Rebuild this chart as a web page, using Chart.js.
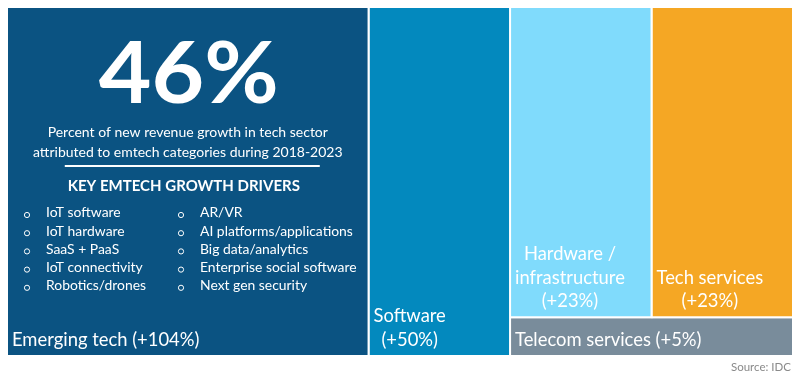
<!DOCTYPE html>
<html>
<head>
<meta charset="utf-8">
<script src="https://cdn.jsdelivr.net/npm/chart.js@4.4.1/dist/chart.umd.min.js"></script>
<style>
  html, body { margin: 0; padding: 0; background: #fff; }
  #wrap { width: 800px; height: 375px; position: relative; }
</style>
</head>
<body>
<div id="wrap"><canvas id="treemap"></canvas></div>
<script>
// Données
const categories = ['Emerging tech', 'Software', 'Hardware / infrastructure', 'Tech services', 'Telecom services'];
const growth = ['+104%', '+50%', '+23%', '+23%', '+5%'];
// part de la croissance du nouveau revenu (surface des tuiles, en %)
const shares = [46, 18, 16, 16, 4];
const tileLabels = [
    ['Emerging tech (+104%)'],
    ['Software', '(+50%)'],
    ['Hardware /', 'infrastructure', '(+23%)'],
    ['Tech services', '(+23%)'],
    ['Telecom services (+5%)']
];
const colors = ['#0b5382', '#0389be', '#80dbfc', '#f5a724', '#798c9b'];
const driversLeft = ['IoT software', 'IoT hardware', 'SaaS + PaaS', 'IoT connectivity', 'Robotics/drones'];
const driversRight = ['AR/VR', 'AI platforms/applications', 'Big data/analytics', 'Enterprise social software', 'Next gen security'];
const headline = '46%';
const subtitle = ['Percent of new revenue growth in tech sector', 'attributed to emtech categories during 2018-2023'];

const FONT = 'Lato, "Open Sans", sans-serif';

// Disposition du treemap à partir des parts (axes 0-100)
function layout(v) {
    const total = v.reduce((a, b) => a + b, 0);
    const rects = [];
    let x = 0;
    for (let i = 0; i < 2; i++) {
        const w = v[i] / total * 100;
        rects.push({ x0: x, x1: x + w, y0: 0, y1: 100 });
        x += w;
    }
    const group = v[2] + v[3] + v[4];
    const telH = v[4] / group * 100;
    const split = x + (100 - x) * v[2] / (v[2] + v[3]);
    rects.push({ x0: x, x1: split, y0: telH, y1: 100 });
    rects.push({ x0: split, x1: 100, y0: telH, y1: 100 });
    rects.push({ x0: x, x1: 100, y0: 0, y1: telH });
    return rects;
}

const rects = layout(shares);

const datasets = rects.map((r, i) => ({
    label: categories[i] + ' (' + growth[i] + ')',
    data: [
        { x: r.x0, y: r.y0 }, { x: r.x1, y: r.y0 },
        { x: r.x1, y: r.y1 }, { x: r.x0, y: r.y1 }, { x: r.x0, y: r.y0 }
    ],
    showLine: true,
    fill: 'shape',
    backgroundColor: colors[i],
    borderColor: '#ffffff',
    borderWidth: 2,
    pointRadius: 0,
    pointHoverRadius: 0,
    tension: 0
}));

// Textes dans les tuiles
const labelsPlugin = {
    id: 'tileLabels',
    afterDatasetsDraw(chart) {
        const ctx = chart.ctx;
        const xs = chart.scales.x, ys = chart.scales.y;
        ctx.save();
        ctx.fillStyle = '#ffffff';
        ctx.textBaseline = 'middle';
        ctx.font = '18.4px ' + FONT;
        rects.forEach((r, i) => {
            const left = xs.getPixelForValue(r.x0);
            const bottom = ys.getPixelForValue(r.y0);
            const lines = tileLabels[i];
            const maxW = Math.max(...lines.map(l => ctx.measureText(l).width));
            ctx.textAlign = 'center';
            lines.forEach((l, j) => {
                const y = bottom - 16 - (lines.length - 1 - j) * 23.5;
                ctx.fillText(l, left + 5 + maxW / 2, y);
            });
        });

        // bloc d'en-tête dans la tuile "Emerging tech"
        const r = rects[0];
        const l0 = xs.getPixelForValue(r.x0), l1 = xs.getPixelForValue(r.x1);
        const top = ys.getPixelForValue(r.y1);
        const cx = (l0 + l1) / 2;

        // gros chiffre : hauteur ~63px, largeur ~180px
        ctx.textAlign = 'center';
        ctx.textBaseline = 'alphabetic';
        ctx.font = 'bold 100px ' + FONT;
        const asc = ctx.measureText(headline).actualBoundingBoxAscent;
        const fs = 100 * 63 / asc;
        ctx.font = 'bold ' + fs + 'px ' + FONT;
        const hw = ctx.measureText(headline).width;
        ctx.save();
        ctx.translate(cx + 1, top + 33 + 63);
        ctx.scale(180 / hw, 1);
        ctx.fillText(headline, 0, 0);
        ctx.restore();

        ctx.textBaseline = 'middle';
        ctx.font = '14px ' + FONT;
        subtitle.forEach((s, j) => ctx.fillText(s, cx, top + 125 + j * 20));
        ctx.strokeStyle = '#ffffff';
        ctx.lineWidth = 2;
        ctx.beginPath();
        ctx.moveTo(cx - 123, top + 159);
        ctx.lineTo(cx + 132, top + 159);
        ctx.stroke();
        ctx.font = 'bold 15px ' + FONT;
        ctx.fillText('KEY EMTECH GROWTH DRIVERS', cx - 4, top + 179);

        ctx.font = '13.9px ' + FONT;
        ctx.textAlign = 'left';
        ctx.lineWidth = 1;
        const cols = [[driversLeft, l0 + 20], [driversRight, l0 + 174]];
        cols.forEach(([items, x0]) => {
            items.forEach((t, j) => {
                const y = top + 206 + j * 18.2;
                ctx.beginPath();
                ctx.arc(x0, y + 2, 2.6, 0, Math.PI * 2);
                ctx.stroke();
                ctx.fillText(t, x0 + 19, y);
            });
        });

        // source
        ctx.fillStyle = '#8a8a8a';
        ctx.font = '11.5px ' + FONT;
        ctx.textAlign = 'right';
        ctx.fillText('Source: IDC', chart.chartArea.right - 2, chart.chartArea.bottom + 11);
        ctx.restore();
    }
};

new Chart(document.getElementById('treemap'), {
    type: 'scatter',
    data: { datasets: datasets },
    options: {
        responsive: true,
        maintainAspectRatio: false,
        animation: false,
        layout: { padding: { left: 7, right: 7, top: 7, bottom: 19 } },
        scales: {
            x: { type: 'linear', min: 0, max: 100, display: false },
            y: { type: 'linear', min: 0, max: 100, display: false }
        },
        plugins: {
            legend: { display: false },
            tooltip: { enabled: false }
        }
    },
    plugins: [labelsPlugin]
});
</script>
</body>
</html>
